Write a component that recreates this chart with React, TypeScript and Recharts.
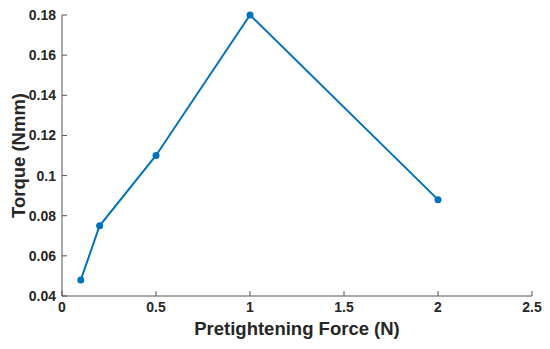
import React from 'react';
import { LineChart, Line, XAxis, YAxis, Label } from 'recharts';

const forces = [0.1, 0.2, 0.5, 1, 2];
const torques = [0.048, 0.075, 0.11, 0.18, 0.088];
const xTicks = [0, 0.5, 1, 1.5, 2, 2.5];
const yTicks = [0.04, 0.06, 0.08, 0.1, 0.12, 0.14, 0.16, 0.18];

const data = forces.map((f, i) => ({ force: f, torque: torques[i] }));

const fmt = (v: number) => String(Number(v.toFixed(2)));

const font = 'Liberation Sans, Arial, sans-serif';
const tickStyle = { fontFamily: font, fontSize: 14, fontWeight: 700, fill: '#262626' };
const labelStyle = { fontFamily: font, fontSize: 18.5, fontWeight: 700, fill: '#262626' };

export default function App() {
    return (
        <div style={{ position: 'absolute', left: 0, top: 0, width: 550, height: 349, background: '#fff' }}>
            <LineChart width={550} height={349} data={data} margin={{ top: 15, right: 18, left: 0, bottom: 0 }}>
                <XAxis
                    dataKey="force"
                    type="number"
                    domain={[0, 2.5]}
                    ticks={xTicks}
                    tickFormatter={fmt}
                    height={53}
                    stroke="#555"
                    tickSize={-5}
                    tickMargin={11}
                    tick={tickStyle}
                    interval={0}
                >
                    <Label value="Pretightening Force (N)" position="insideBottom" offset={14} style={labelStyle} />
                </XAxis>
                <YAxis
                    type="number"
                    domain={[0.04, 0.18]}
                    ticks={yTicks}
                    tickFormatter={fmt}
                    width={62}
                    stroke="#555"
                    tickSize={-5}
                    tickMargin={11}
                    tick={tickStyle}
                    interval={0}
                >
                    <Label
                        value="Torque (Nmm)"
                        angle={-90}
                        position="insideLeft"
                        offset={18}
                        style={{ ...labelStyle, textAnchor: 'middle' }}
                    />
                </YAxis>
                <Line
                    type="linear"
                    dataKey="torque"
                    stroke="#0072BD"
                    strokeWidth={2}
                    dot={{ r: 3.5, fill: '#0072BD', stroke: '#0072BD', strokeWidth: 0 }}
                    isAnimationActive={false}
                />
            </LineChart>
        </div>
    );
}
